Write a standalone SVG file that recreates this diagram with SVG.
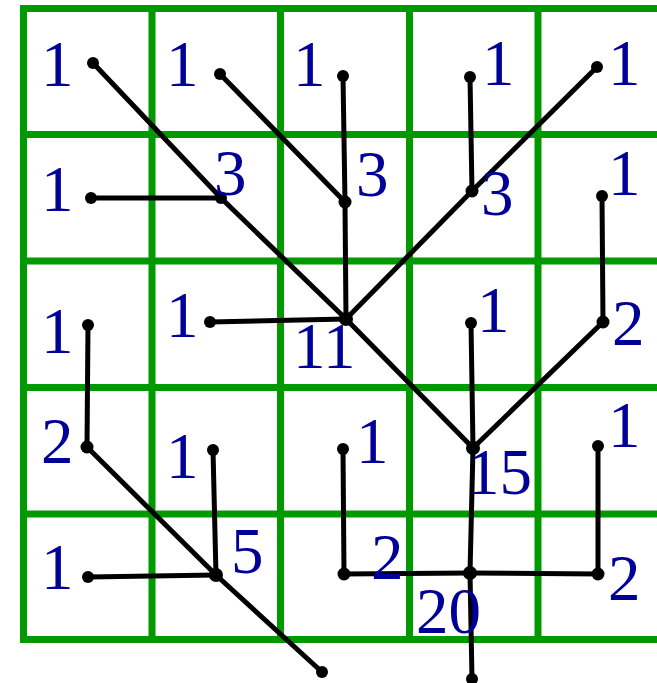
<svg xmlns="http://www.w3.org/2000/svg" width="657" height="683" viewBox="0 0 657 683">
<style>
.g{stroke:#009900;stroke-width:7;fill:none;stroke-linecap:square}
.c{stroke:#000;stroke-width:5;fill:none;stroke-linecap:round}
.d{fill:#000}
.t{font-family:"Liberation Serif","Times New Roman",serif;font-size:65px;fill:#000099}
</style>
<rect width="657" height="683" fill="#fff"/>
<g id="grid">
<line class="g" x1="23.5" y1="8.5" x2="660" y2="8.5"/>
<line class="g" x1="23.5" y1="134.5" x2="660" y2="134.5"/>
<line class="g" x1="23.5" y1="261" x2="660" y2="261"/>
<line class="g" x1="23.5" y1="387.5" x2="660" y2="387.5"/>
<line class="g" x1="23.5" y1="514" x2="660" y2="514"/>
<line class="g" x1="23.5" y1="639.5" x2="660" y2="639.5"/>
<line class="g" x1="23.5" y1="8.5" x2="23.5" y2="639.5"/>
<line class="g" x1="152" y1="8.5" x2="152" y2="639.5"/>
<line class="g" x1="280.5" y1="8.5" x2="280.5" y2="639.5"/>
<line class="g" x1="409.5" y1="8.5" x2="409.5" y2="639.5"/>
<line class="g" x1="538" y1="8.5" x2="538" y2="639.5"/>
</g>
<g id="connectors">
<polyline class="c" points="93,63 221,198 346,319 473,448 470,573 472,679"/>
<line class="c" x1="91" y1="198" x2="221" y2="198"/>
<polyline class="c" points="220,74 345,202 346,319"/>
<line class="c" x1="343" y1="76" x2="345" y2="202"/>
<line class="c" x1="470" y1="77" x2="472" y2="191"/>
<polyline class="c" points="597,67 472,191 346,319"/>
<line class="c" x1="210" y1="322" x2="346" y2="319"/>
<polyline class="c" points="602,196 603,322 473,448"/>
<line class="c" x1="471" y1="323" x2="473" y2="448"/>
<polyline class="c" points="88,325 87,447 216,575 322,672"/>
<line class="c" x1="213" y1="450" x2="216" y2="575"/>
<line class="c" x1="88" y1="577" x2="216" y2="575"/>
<polyline class="c" points="343,449 344,574 470,573 598,574 598,446"/>
</g>
<g id="n00"><circle class="d" cx="93" cy="63" r="6"/><text class="t" x="41" y="86">1</text></g>
<g id="n01"><circle class="d" cx="220" cy="74" r="6"/><text class="t" x="166" y="86">1</text></g>
<g id="n02"><circle class="d" cx="343" cy="76" r="6"/><text class="t" x="293" y="86">1</text></g>
<g id="n03"><circle class="d" cx="470" cy="77" r="6"/><text class="t" x="482" y="85">1</text></g>
<g id="n04"><circle class="d" cx="597" cy="67" r="6"/><text class="t" x="608" y="85">1</text></g>
<g id="n10"><circle class="d" cx="91" cy="198" r="6"/><text class="t" x="41" y="211">1</text></g>
<g id="n11"><circle class="d" cx="221" cy="198" r="6"/><text class="t" x="214" y="195">3</text></g>
<g id="n12"><circle class="d" cx="345" cy="202" r="6.5"/><text class="t" x="356" y="196">3</text></g>
<g id="n13"><circle class="d" cx="472" cy="191" r="6.5"/><text class="t" x="481" y="215">3</text></g>
<g id="n14"><circle class="d" cx="602" cy="196" r="6"/><text class="t" x="608" y="195">1</text></g>
<g id="n20"><circle class="d" cx="88" cy="325" r="6"/><text class="t" x="41" y="353">1</text></g>
<g id="n21"><circle class="d" cx="210" cy="322" r="6"/><text class="t" x="166" y="337">1</text></g>
<g id="n22"><circle class="d" cx="346" cy="319" r="7"/><text class="t" x="293" y="368">11</text></g>
<g id="n23"><circle class="d" cx="471" cy="323" r="6"/><text class="t" x="477" y="332">1</text></g>
<g id="n24"><circle class="d" cx="603" cy="322" r="6.5"/><text class="t" x="612" y="345">2</text></g>
<g id="n30"><circle class="d" cx="87" cy="447" r="6.5"/><text class="t" x="41" y="463">2</text></g>
<g id="n31"><circle class="d" cx="213" cy="450" r="6"/><text class="t" x="166" y="478">1</text></g>
<g id="n32"><circle class="d" cx="343" cy="449" r="6"/><text class="t" x="356" y="463">1</text></g>
<g id="n33"><circle class="d" cx="473" cy="448" r="7"/><text class="t" x="467" y="494">15</text></g>
<g id="n34"><circle class="d" cx="598" cy="446" r="6"/><text class="t" x="608" y="447">1</text></g>
<g id="n40"><circle class="d" cx="88" cy="577" r="6"/><text class="t" x="41" y="589">1</text></g>
<g id="n41"><circle class="d" cx="216" cy="575" r="7"/><text class="t" x="231" y="573">5</text></g>
<g id="n42"><circle class="d" cx="344" cy="574" r="6.5"/><text class="t" x="371" y="579">2</text></g>
<g id="n43"><circle class="d" cx="470" cy="573" r="7"/><text class="t" x="416" y="633">20</text></g>
<g id="n44"><circle class="d" cx="598" cy="574" r="6.5"/><text class="t" x="608" y="600">2</text></g>
<g id="out1"><circle class="d" cx="322" cy="672" r="6"/></g>
<g id="out2"><circle class="d" cx="472" cy="679" r="6"/></g>
</svg>
